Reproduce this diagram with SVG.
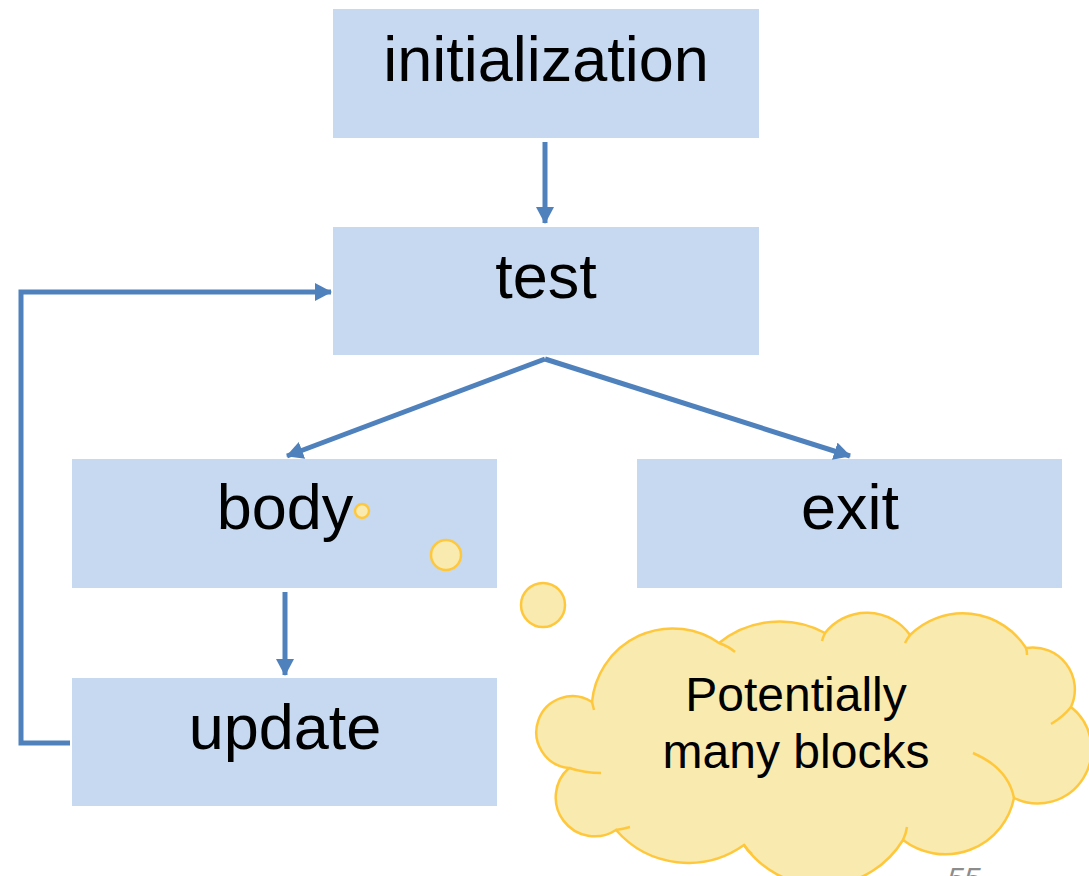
<svg xmlns="http://www.w3.org/2000/svg" width="1089" height="876" viewBox="0 0 1089 876">
<style>
.box{fill:#C6D9F1}
.lbl{font-family:"Liberation Sans",Arial,sans-serif;font-size:63px;fill:#000;text-anchor:middle}
.conn{stroke:#4F81BD;stroke-width:5;fill:none}
.bub{fill:#F9EAAF;stroke:#FFC83C;stroke-width:2.5}
.inner{fill:none;stroke:#FFC83C;stroke-width:2.5}
.ct{font-family:"Liberation Sans",Arial,sans-serif;font-size:48px;fill:#000;text-anchor:middle}
</style>
<defs>
<marker id="ah" markerUnits="userSpaceOnUse" markerWidth="20" markerHeight="20" refX="16" refY="9" orient="auto">
<path d="M0,0 L17,9 L0,18 Z" fill="#4F81BD"/>
</marker>
</defs>
<rect width="1089" height="876" fill="#fff"/>
<g id="initialization"><rect class="box" x="333" y="9" width="426" height="129"/><text class="lbl" x="546" y="81">initialization</text></g>
<g id="test"><rect class="box" x="333" y="227" width="426" height="128"/><text class="lbl" x="546" y="298">test</text></g>
<g id="body"><rect class="box" x="72" y="459" width="425" height="129"/><text class="lbl" x="285" y="529">body</text></g>
<g id="exit"><rect class="box" x="637" y="459" width="425" height="129"/><text class="lbl" x="850" y="529">exit</text></g>
<g id="update"><rect class="box" x="72" y="678" width="425" height="128"/><text class="lbl" x="285" y="749">update</text></g>
<g id="connectors">
<line class="conn" x1="545" y1="142" x2="545" y2="223" marker-end="url(#ah)"/>
<line class="conn" x1="545" y1="359" x2="287" y2="456" marker-end="url(#ah)"/>
<line class="conn" x1="545" y1="359" x2="850" y2="456" marker-end="url(#ah)"/>
<line class="conn" x1="285" y1="592" x2="285" y2="675" marker-end="url(#ah)"/>
<path class="conn" d="M70,743 L21,743 L21,292 L331,292" marker-end="url(#ah)"/>
</g>
<g id="thought">
<circle class="bub" cx="362" cy="511" r="7"/>
<circle class="bub" cx="446" cy="555" r="15"/>
<circle class="bub" cx="543" cy="605" r="22"/>
<path class="bub" d="M592,702 A81,81 0 0 1 719,643 A96,96 0 0 1 825,633 A53,53 0 0 1 910,635 A75,75 0 0 1 1026,648 A42,42 0 0 1 1071,707 A54,54 0 0 1 1014,798 A70,70 0 0 1 903,840 A95,95 0 0 1 744,845 A96,96 0 0 1 616,830 A39,39 0 0 1 569,768 A36,36 0 1 1 592,702 Z"/>
<path class="inner" d="M592,702 Q593,706 594,710"/>
<path class="inner" d="M719,643 Q728,646 735,652"/>
<path class="inner" d="M825,633 Q823,637 822,641"/>
<path class="inner" d="M910,635 Q907,639 905,643"/>
<path class="inner" d="M1026,648 Q1027,651 1027,655"/>
<path class="inner" d="M1071,707 Q1063,717 1051,724"/>
<path class="inner" d="M973,753 Q1008,768 1014,798"/>
<path class="inner" d="M907,827 Q906,834 903,840"/>
<path class="inner" d="M744,845 Q747,850 752,854"/>
<path class="inner" d="M616,830 Q623,829 630,827"/>
<path class="inner" d="M569,768 Q585,773 601,773"/>
<text class="ct" x="796" y="711">Potentially</text>
<text class="ct" x="796" y="768">many blocks</text>
</g>
<text x="964" y="888" font-family="Liberation Sans,Arial,sans-serif" font-size="30" font-style="italic" fill="#8C8C8C" text-anchor="middle">55</text>
</svg>
